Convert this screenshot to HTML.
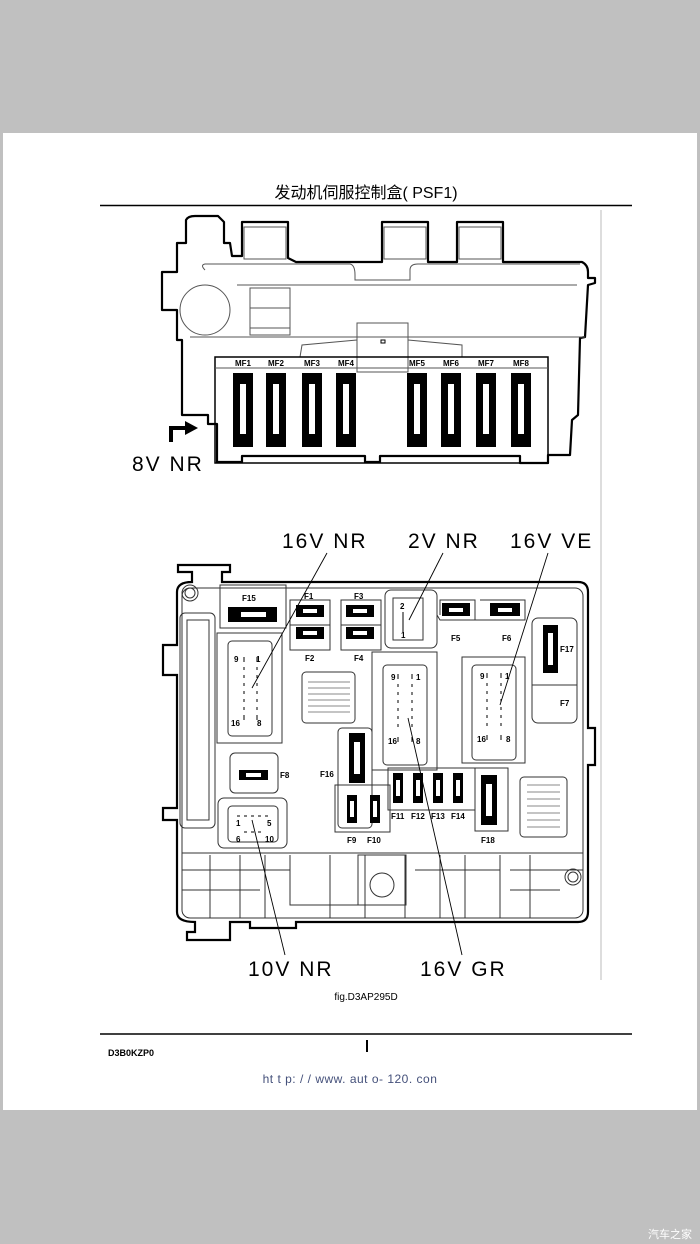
<!DOCTYPE html>
<html><head><meta charset="utf-8"><style>
html,body{margin:0;padding:0;background:#c0c0c0;width:700px;height:1244px;overflow:hidden}
svg{display:block}
.t{font-family:"Liberation Sans",sans-serif}
</style></head><body>
<svg width="700" height="1244" viewBox="0 0 700 1244" xmlns="http://www.w3.org/2000/svg">
<rect x="0" y="0" width="700" height="1244" fill="#c0c0c0"/>
<rect x="3" y="133" width="694" height="977" fill="#fff"/>
<text x="366" y="198" text-anchor="middle" font-size="16" class="t" font-family="Liberation Sans, Noto Sans CJK SC, sans-serif">发动机伺服控制盒( PSF1)</text>
<line x1="100" y1="205.5" x2="632" y2="205.5" stroke="#000" stroke-width="1.5"/>
<line x1="601" y1="210" x2="601" y2="980" stroke="#bbb" stroke-width="1"/>

<!-- TOP DIAGRAM -->
<g fill="none" stroke="#000" stroke-width="2.2" stroke-linejoin="round">
<path d="M186,243 L186,220 Q188,216 195,216 L218,216 L224,222 L224,243 L230,243 L232,256 L242,256 L242,222 L288,222 L288,258 L296,262 L382,262 L382,222 L428,222 L428,262 L457,262 L457,222 L503,222 L503,262 L582,262 Q588,265 588,272 L588,278 L595,278 L595,283 L588,285 L585,337 L580,338 L578,415 L572,420 L570,455 L548,455 L548,463 L520,463 L520,456 L380,456 L380,462 L365,462 L365,456 L242,456 L242,462 L217,462 L217,424 L208,424 L208,415 L182,415 L182,340 L177,340 L177,310 L162,310 L162,272 L177,272 L177,243 Z"/>
</g>
<g fill="none" stroke="#555" stroke-width="1">
<rect x="244" y="227" width="42" height="32"/><rect x="384" y="227" width="42" height="32"/><rect x="459" y="227" width="42" height="32"/>
<path d="M205,270 Q200,265 205,264 L350,264 Q355,265 355,275 L355,280 L410,280 L410,270 Q410,264 418,264 L580,264"/>
<line x1="237" y1="285" x2="577" y2="285"/>
<circle cx="205" cy="310" r="25"/>
<rect x="250" y="288" width="40" height="47"/><line x1="250" y1="308" x2="290" y2="308"/><line x1="250" y1="328" x2="290" y2="328"/>
<line x1="190" y1="337" x2="585" y2="337"/>
<rect x="357" y="323" width="51" height="49"/>
<rect x="381" y="340" width="4" height="3" stroke="#000"/>
<path d="M215,357 L300,357 L302,345 L357,340 M408,340 L462,345 L462,357 L548,357"/>
<rect x="215" y="357" width="333" height="106" stroke="#000" stroke-width="1.5"/>
<line x1="215" y1="368" x2="548" y2="368"/>
</g>
<g font-size="8" font-weight="bold" class="t" text-anchor="middle">
<text x="243" y="366">MF1</text><text x="276" y="366">MF2</text><text x="312" y="366">MF3</text><text x="346" y="366">MF4</text>
<text x="417" y="366">MF5</text><text x="451" y="366">MF6</text><text x="486" y="366">MF7</text><text x="521" y="366">MF8</text>
</g>
<g fill="#000">
<rect x="233" y="373" width="20" height="74"/><rect x="266" y="373" width="20" height="74"/><rect x="302" y="373" width="20" height="74"/><rect x="336" y="373" width="20" height="74"/>
<rect x="407" y="373" width="20" height="74"/><rect x="441" y="373" width="20" height="74"/><rect x="476" y="373" width="20" height="74"/><rect x="511" y="373" width="20" height="74"/>
</g>
<g fill="#fff">
<rect x="240" y="384" width="6" height="50"/><rect x="273" y="384" width="6" height="50"/><rect x="309" y="384" width="6" height="50"/><rect x="343" y="384" width="6" height="50"/>
<rect x="414" y="384" width="6" height="50"/><rect x="448" y="384" width="6" height="50"/><rect x="483" y="384" width="6" height="50"/><rect x="518" y="384" width="6" height="50"/>
</g>
<path d="M171,442 L171,428 L186,428" fill="none" stroke="#000" stroke-width="4"/>
<path d="M185,421 L198,428 L185,435 Z" fill="#000"/>
<text x="132" y="471" font-size="21" class="t" letter-spacing="2">8V NR</text>

<!-- LABELS -->
<g font-size="21" class="t" letter-spacing="2">
<text x="282" y="548">16V NR</text><text x="408" y="548">2V NR</text><text x="510" y="548">16V VE</text>
<text x="248" y="976">10V NR</text><text x="420" y="976">16V GR</text>
</g>

<!-- BOTTOM DIAGRAM -->
<g fill="none" stroke="#000" stroke-width="2.2">
<path d="M178,565 L230,565 L230,572 L222,572 L222,582 L578,582 Q588,582 588,592 L588,728 L595,728 L595,765 L588,765 L588,912 Q588,922 578,922 L296,922 L296,928 L250,928 L250,922 L230,922 L230,932 L230,940 L187,940 L187,932 L195,932 L195,922 Q177,922 177,912 L177,820 L163,820 L163,808 L177,808 L177,675 L163,675 L163,645 L177,645 L177,592 Q177,582 192,582 L192,572 L178,572 Z"/>
</g>
<g fill="none" stroke="#333" stroke-width="1">
<rect x="182" y="588" width="401" height="330" rx="8"/>
<circle cx="190" cy="593" r="8"/><circle cx="190" cy="593" r="5"/>
<circle cx="573" cy="877" r="8"/><circle cx="573" cy="877" r="5"/>
<rect x="180" y="613" width="35" height="215" rx="5"/><rect x="187" y="620" width="22" height="200"/>
<rect x="220" y="585" width="66" height="43"/>
<rect x="290" y="600" width="40" height="50"/><line x1="290" y1="625" x2="330" y2="625"/>
<rect x="341" y="600" width="40" height="50"/><line x1="341" y1="625" x2="381" y2="625"/>
<rect x="385" y="590" width="52" height="58" rx="6"/><rect x="393" y="598" width="30" height="42"/>
<path d="M437,615 L440,620 L475,620 L475,600 L440,600 L440,615"/>
<path d="M440,620 L525,620 L525,600 L480,600"/>
<rect x="532" y="618" width="45" height="105" rx="6"/><line x1="532" y1="685" x2="577" y2="685"/>
<rect x="217" y="633" width="65" height="110"/><rect x="228" y="641" width="44" height="95" rx="4"/>
<rect x="302" y="672" width="53" height="51" rx="4"/>
<g stroke="#888"><line x1="308" y1="682" x2="350" y2="682"/><line x1="308" y1="688" x2="350" y2="688"/><line x1="308" y1="694" x2="350" y2="694"/><line x1="308" y1="700" x2="350" y2="700"/><line x1="308" y1="706" x2="350" y2="706"/><line x1="308" y1="712" x2="350" y2="712"/></g>
<rect x="372" y="652" width="65" height="118"/><rect x="383" y="665" width="44" height="100" rx="4"/>
<rect x="462" y="657" width="63" height="106"/><rect x="472" y="665" width="44" height="95" rx="4"/>
<rect x="338" y="728" width="34" height="100" rx="4"/>
<rect x="335" y="785" width="55" height="47"/>
<rect x="388" y="768" width="87" height="42"/>
<rect x="475" y="768" width="33" height="63"/>
<rect x="520" y="777" width="47" height="60" rx="4"/>
<g stroke="#888"><line x1="527" y1="785" x2="560" y2="785"/><line x1="527" y1="792" x2="560" y2="792"/><line x1="527" y1="799" x2="560" y2="799"/><line x1="527" y1="806" x2="560" y2="806"/><line x1="527" y1="813" x2="560" y2="813"/><line x1="527" y1="820" x2="560" y2="820"/><line x1="527" y1="827" x2="560" y2="827"/></g>
<rect x="230" y="753" width="48" height="40" rx="5"/>
<rect x="218" y="798" width="69" height="50" rx="6"/><rect x="228" y="806" width="50" height="36" rx="4"/>
<line x1="182" y1="853" x2="583" y2="853"/>
<path d="M182,870 L290,870 M182,890 L260,890 M210,855 L210,918 M240,855 L240,918 M265,855 L265,918 M290,855 L290,905 L360,905 M330,855 L330,918 M365,855 L365,918 M405,855 L405,918 M415,870 L500,870 M440,855 L440,918 M465,855 L465,918 M500,855 L500,918 M510,870 L583,870 M510,890 L560,890 M530,855 L530,918"/>
<rect x="358" y="855" width="48" height="50"/>
<circle cx="382" cy="885" r="12"/>
</g>
<!-- fuses bottom -->
<g fill="#000">
<rect x="228" y="607" width="49" height="15"/>
<rect x="296" y="605" width="28" height="12"/><rect x="296" y="627" width="28" height="12"/>
<rect x="346" y="605" width="28" height="12"/><rect x="346" y="627" width="28" height="12"/>
<rect x="442" y="603" width="28" height="13"/><rect x="490" y="603" width="30" height="13"/>
<rect x="543" y="625" width="15" height="48"/>
<rect x="349" y="733" width="16" height="50"/>
<rect x="393" y="773" width="10" height="30"/><rect x="413" y="773" width="10" height="30"/><rect x="433" y="773" width="10" height="30"/><rect x="453" y="773" width="10" height="30"/>
<rect x="347" y="795" width="10" height="28"/><rect x="370" y="795" width="10" height="28"/>
<rect x="481" y="775" width="16" height="50"/>
<rect x="239" y="770" width="29" height="10"/>
</g>
<g fill="#fff">
<rect x="241" y="612" width="25" height="5"/>
<rect x="303" y="609" width="14" height="4"/><rect x="303" y="631" width="14" height="4"/><rect x="353" y="609" width="14" height="4"/><rect x="353" y="631" width="14" height="4"/>
<rect x="449" y="608" width="14" height="4"/><rect x="498" y="608" width="14" height="4"/>
<rect x="548" y="633" width="5" height="32"/><rect x="354" y="742" width="6" height="32"/><rect x="486" y="784" width="6" height="32"/>
<rect x="396" y="780" width="4" height="16"/><rect x="416" y="780" width="4" height="16"/><rect x="436" y="780" width="4" height="16"/><rect x="456" y="780" width="4" height="16"/>
<rect x="350" y="801" width="4" height="16"/><rect x="373" y="801" width="4" height="16"/>
<rect x="246" y="773" width="15" height="4"/>
</g>
<g font-size="8" font-weight="bold" class="t">
<text x="242" y="601">F15</text><text x="304" y="599">F1</text><text x="354" y="599">F3</text>
<text x="305" y="661">F2</text><text x="354" y="661">F4</text><text x="451" y="641">F5</text><text x="502" y="641">F6</text>
<text x="560" y="652">F17</text><text x="560" y="706">F7</text><text x="280" y="778">F8</text><text x="320" y="777">F16</text>
<text x="391" y="819">F11</text><text x="411" y="819">F12</text><text x="431" y="819">F13</text><text x="451" y="819">F14</text>
<text x="347" y="843">F9</text><text x="367" y="843">F10</text><text x="481" y="843">F18</text>
<text x="234" y="662">9</text><text x="256" y="662">1</text><text x="231" y="726">16</text><text x="257" y="726">8</text>
<text x="391" y="680">9</text><text x="416" y="680">1</text><text x="388" y="744">16</text><text x="416" y="744">8</text>
<text x="480" y="679">9</text><text x="505" y="679">1</text><text x="477" y="742">16</text><text x="506" y="742">8</text>
<text x="400" y="609">2</text><text x="401" y="638">1</text>
<text x="236" y="826">1</text><text x="267" y="826">5</text><text x="236" y="842">6</text><text x="265" y="842">10</text>
</g>
<g stroke="#000" stroke-width="1" fill="none">
<path d="M244,657v5M257,657v5M244,667v3M257,667v3M244,675v3M257,675v3M244,683v3M257,683v3M244,691v3M257,691v3M244,699v3M257,699v3M244,707v3M257,707v3M244,715v5M257,715v5"/>
<path d="M398,674v5M412,674v5M398,684v3M412,684v3M398,692v3M412,692v3M398,700v3M412,700v3M398,708v3M412,708v3M398,716v3M412,716v3M398,724v3M412,724v3M398,737v5M412,737v5"/>
<path d="M487,673v5M501,673v5M487,683v3M501,683v3M487,691v3M501,691v3M487,699v3M501,699v3M487,707v3M501,707v3M487,715v3M501,715v3M487,723v3M501,723v3M487,735v5M501,735v5"/>
<path d="M403,612v20"/>
<path d="M237,816h3M244,816h3M251,816h3M258,816h3M265,816h3M244,832h3M251,832h3M258,832h3"/>
</g>
<!-- leader lines -->
<g stroke="#000" stroke-width="0.9">
<line x1="327" y1="553" x2="252" y2="688"/>
<line x1="443" y1="553" x2="409" y2="620"/>
<line x1="548" y1="553" x2="500" y2="705"/>
<line x1="285" y1="955" x2="252" y2="820"/>
<line x1="462" y1="955" x2="408" y2="718"/>
</g>

<text x="366" y="1000" text-anchor="middle" font-size="10" class="t">fig.D3AP295D</text>
<line x1="100" y1="1034" x2="632" y2="1034" stroke="#000" stroke-width="1.5"/>
<text x="108" y="1056" font-size="9" font-weight="bold" class="t">D3B0KZP0</text>
<rect x="366" y="1040" width="2" height="12" fill="#000"/>
<text x="350" y="1083" text-anchor="middle" font-size="12" fill="#44507a" class="t" letter-spacing="0.5">ht t p: / / www. aut o- 120. con</text>
<text x="692" y="1238" text-anchor="end" font-size="11" fill="#fff" font-family="Liberation Sans, Noto Sans CJK SC, sans-serif">汽车之家</text>
</svg>
</body></html>
